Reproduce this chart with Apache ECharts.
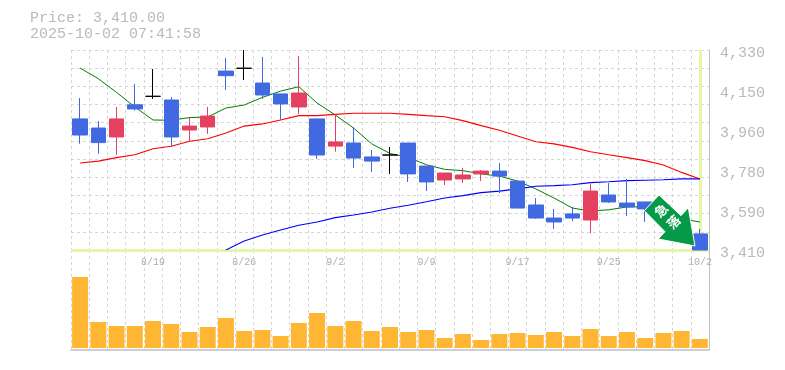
<!DOCTYPE html>
<html>
<head>
<meta charset="utf-8">
<style>html,body{margin:0;padding:0;background:#fff}#c{width:785px;height:370px}</style>
<script src="https://cdn.jsdelivr.net/npm/echarts@6/dist/echarts.min.js"></script>
</head>
<body>
<div id="c"></div>
<script>
const categories = ['8/13','8/14','8/15','8/18','8/19','8/20','8/21','8/22','8/25','8/26','8/27','8/28','8/29','9/1','9/2','9/3','9/4','9/5','9/8','9/9','9/10','9/11','9/12','9/16','9/17','9/18','9/19','9/22','9/24','9/25','9/26','9/29','9/30','10/1','10/2'];
const priceTicks = ['3,410','3,590','3,780','3,960','4,150','4,330'];
const titleLines = ['Price: 3,410.00','2025-10-02 07:41:58'];
const badgeText = ['急','落'];
const opens  = [4013,3971,3930,4078,4117,4100,3962,3976,4233,4246,4178,4128,4068,4013,3888,3902,3838,3847,3902,3796,3732,3737,3760,3773,3727,3617,3557,3576,3548,3663,3626,3631,3617,3548,3484];
const closes = [3939,3904,4013,4059,4117,3930,3980,4026,4212,4246,4123,4082,4132,3847,3907,3833,3819,3847,3760,3723,3764,3755,3773,3750,3603,3557,3539,3557,3681,3631,3608,3599,3548,3474,3410];
const lows   = [3899,3853,3847,4051,4105,3888,3910,3944,4146,4192,4105,4009,4036,3829,3862,3787,3769,3760,3723,3681,3709,3718,3727,3672,3603,3553,3507,3543,3488,3626,3566,3539,3525,3465,3410];
const highs  = [4109,4003,4068,4174,4243,4114,4022,4068,4293,4330,4298,4128,4302,4013,4034,3974,3870,3884,3902,3796,3764,3787,3778,3810,3727,3649,3599,3608,3714,3718,3737,3631,3631,3557,3507];
const maShort = [4247,4198,4135,4068,4008,4007,4019,4022,4063,4077,4112,4141,4161,4086,4031,3971,3898,3854,3836,3802,3781,3775,3760,3750,3727,3691,3649,3603,3589,3595,3608,3609,3580,3553,3539];
const maMid   = [3810,3819,3835,3848,3876,3887,3910,3922,3948,3980,3990,4008,4028,4028,4034,4039,4039,4039,4034,4028,4023,4005,3982,3961,3934,3908,3898,3882,3862,3848,3835,3821,3801,3767,3737];
const maLong  = ['-','-','-','-','-','-','-','-',3410,3451,3479,3502,3524,3539,3559,3571,3585,3602,3616,3632,3649,3660,3674,3681,3691,3703,3706,3710,3720,3724,3729,3731,3733,3737,3737];
const volumes = [71,26,22,22,27,24,16,21,30,17,18,12,25,35,22,27,17,21,16,18,10,14,8,14,15,13,16,12,19,12,16,10,15,17,9].map(v => v * 1000);

const GRAY = '#c0c0c0';
const TEXT = '#bababa';
const MONO = '"Liberation Mono", monospace';
const dash = { color: '#d6d6d6', width: 1, type: [3, 3] };
const candles = categories.map((_, i) => [opens[i], closes[i], lows[i], highs[i]]);

const chart = echarts.init(document.getElementById('c'), null, { renderer: 'canvas' });
chart.setOption({
  animation: false,
  backgroundColor: '#fff',
  title: {
    text: titleLines.join('\n'), left: 30, top: 10, padding: 0,
    textStyle: { color: TEXT, fontFamily: MONO, fontSize: 15, fontWeight: 'normal', lineHeight: 16 }
  },
  grid: [
    { left: 71, right: 76, top: 50, height: 200 },
    { left: 71, right: 76, top: 250, height: 100 }
  ],
  xAxis: [
    { type: 'category', gridIndex: 0, data: categories, boundaryGap: true,
      axisLine: { show: false }, axisTick: { show: false },
      axisLabel: { color: '#b0b0b0', fontFamily: MONO, fontSize: 10, margin: 7,
        interval: (i) => i % 5 === 4 },
      splitLine: { show: true, interval: 0, lineStyle: dash } },
    { type: 'category', gridIndex: 1, data: categories, boundaryGap: true,
      axisLine: { show: true, onZero: false, lineStyle: { color: GRAY, width: 1.5 } },
      axisTick: { show: false }, axisLabel: { show: false },
      splitLine: { show: true, interval: 0, lineStyle: dash } }
  ],
  yAxis: [
    { type: 'value', gridIndex: 0, min: 3410, max: 4330, show: false, splitLine: { show: false } },
    { type: 'value', gridIndex: 0, min: 0, max: 11, interval: 1, position: 'left',
      axisLine: { show: false }, axisTick: { show: false }, axisLabel: { show: false },
      splitLine: { show: true, lineStyle: dash } },
    { type: 'category', gridIndex: 0, data: priceTicks, boundaryGap: false, position: 'right',
      axisLine: { show: true, lineStyle: { color: GRAY, width: 1 } }, axisTick: { show: false },
      splitLine: { show: false },
      axisLabel: { color: TEXT, fontFamily: MONO, fontSize: 15, margin: 11, interval: 0,
        verticalAlign: 'top', lineHeight: 6 } },
    { type: 'value', gridIndex: 1, min: -2000, max: 98000, position: 'right',
      axisLine: { show: true, lineStyle: { color: GRAY, width: 1 } }, axisTick: { show: false },
      axisLabel: { show: false }, splitLine: { show: false } }
  ],
  series: [
    { type: 'line', xAxisIndex: 0, yAxisIndex: 0, data: [], z: 1, silent: true,
      markLine: { silent: true, symbol: 'none', animation: false, label: { show: false }, z: 1,
        lineStyle: { color: '#e6f5a8', width: 3, type: 'solid' },
        data: [{ yAxis: 3410 }, { xAxis: '10/2' }] } },
    { name: 'maShort', type: 'line', xAxisIndex: 0, yAxisIndex: 0, data: maShort, symbol: 'none', z: 2,
      lineStyle: { color: '#008000', width: 1 } },
    { name: 'maMid', type: 'line', xAxisIndex: 0, yAxisIndex: 0, data: maMid, symbol: 'none', z: 2,
      lineStyle: { color: '#ff0000', width: 1.1 } },
    { name: 'maLong', type: 'line', xAxisIndex: 0, yAxisIndex: 0, data: maLong, symbol: 'none', z: 2,
      lineStyle: { color: '#0000ff', width: 1.1 } },
    { name: 'price', type: 'candlestick', xAxisIndex: 0, yAxisIndex: 0, data: candles, barWidth: 15, z: 3,
      itemStyle: { color: '#e44060', color0: '#4169e1', borderColor: '#e44060', borderColor0: '#4169e1',
        borderColorDoji: '#000', borderWidth: 1 } },
    { name: 'volume', type: 'bar', xAxisIndex: 1, yAxisIndex: 3, data: volumes, barWidth: 16, z: 3,
      itemStyle: { color: '#ffb733' } }
  ],
  graphic: [
    { type: 'polygon', z: 100,
      shape: { points: [[659,195],[644.3,210.7],[665,231.7],[658.3,239],[695,246],[688.3,207.7],[681,215.7]] },
      style: { fill: '#059a48', stroke: '#fff', lineWidth: 1 } },
    { type: 'text', z: 101, x: 661, y: 210.5, rotation: Math.PI / 4,
      style: { text: badgeText[0], fill: '#fff', font: 'bold 13px "Noto Sans CJK JP"', align: 'center', verticalAlign: 'middle' } },
    { type: 'text', z: 101, x: 673.5, y: 222, rotation: Math.PI / 4,
      style: { text: badgeText[1], fill: '#fff', font: 'bold 13px "Noto Sans CJK JP"', align: 'center', verticalAlign: 'middle' } }
  ]
});
</script>
</body>
</html>
